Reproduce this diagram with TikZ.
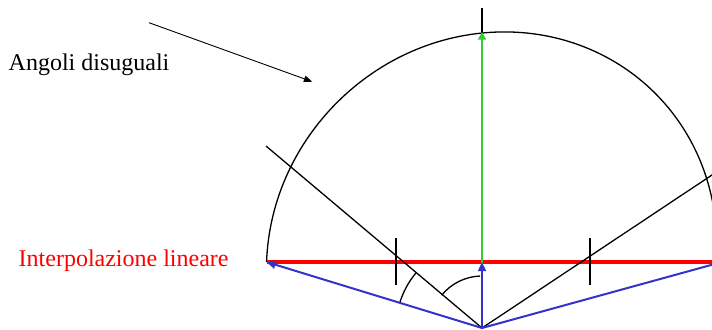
\documentclass[tikz,border=0pt]{standalone}
\usepackage{fontspec}
\setmainfont{Liberation Serif}
\usepackage{tikz}
\usetikzlibrary{arrows.meta}
\definecolor{VECblue}{HTML}{3333CC}
\definecolor{VECgreen}{HTML}{33CC33}
\definecolor{VECred}{HTML}{FF0000}
\tikzset{
  guide/.style={draw=black, line width=0.65pt},
  interpline/.style={draw=VECred, line width=1.6pt},
  bluevec/.style={-{Triangle[length=4.6pt, width=4pt]}, draw=VECblue, fill=VECblue, line width=1pt},
  greenvec/.style={-{Triangle[length=3.8pt, width=4pt]}, draw=VECgreen, fill=VECgreen, line width=0.9pt},
  anglemark/.style={draw=black, line width=0.65pt},
  notearr/.style={-{Triangle[length=4.2pt, width=3.2pt]}, draw=black, line width=0.45pt},
  notetext/.style={inner sep=0pt, anchor=base west, font=\fontsize{12}{14}\selectfont}
}

\begin{document}
\begin{tikzpicture}[x=0.5pt, y=0.5pt]
\useasboundingbox (0,0) rectangle (712,329);
\clip (0,0) rectangle (712,329);
% points of the construction
\coordinate (o) at (482,1);
\coordinate (c) at (491.5,72);
\coordinate (lend) at (266.5,67);
\coordinate (rend) at (722,67);
\coordinate (redend) at (730,67);
\coordinate (mid) at (482,67);
\coordinate (top) at (482,297);
\coordinate (axtop) at (482,321);
\coordinate (ldiag) at (266,183);
\coordinate (rdiag) at (730,166);
\coordinate (notestart) at (149,306.3);
\coordinate (notetip) at (312.3,247.3);
% the big arc
\begin{scope}[shift={(c)}, rotate=45]
\draw[guide] (134.6:231.5 and 218.5) arc[start angle=134.6, end angle=-48, x radius=231.5, y radius=218.5];
\end{scope}
% linear interpolation
\draw[interpline] (lend) -- (redend);
% diagonals and axis
\draw[guide] (ldiag) -- (o) -- (rdiag);
\draw[guide] (axtop) -- (mid);
\draw[guide] (396,91) -- (396,44);
\draw[guide] (590,91) -- (590,44);
% angles
\draw[anglemark] ([shift={(163:86)}]o) arc[start angle=163, end angle=140, radius=86];
\draw[anglemark] ([shift={(141:52)}]o) arc[start angle=141, end angle=92, radius=52];
% vectors
\draw[greenvec] (o) -- (top);
\draw[bluevec] (o) -- (lend);
\draw[bluevec] (o) -- (rend);
\draw[bluevec] (o) -- (mid);
% labels
\node[notetext] (angoli) at (8.3,258.3) {Angoli disuguali};
\node[notetext, text=VECred] (interp) at (18.3,62.3) {Interpolazione lineare};
\draw[notearr] (notestart) -- (notetip);
\end{tikzpicture}
\end{document}
